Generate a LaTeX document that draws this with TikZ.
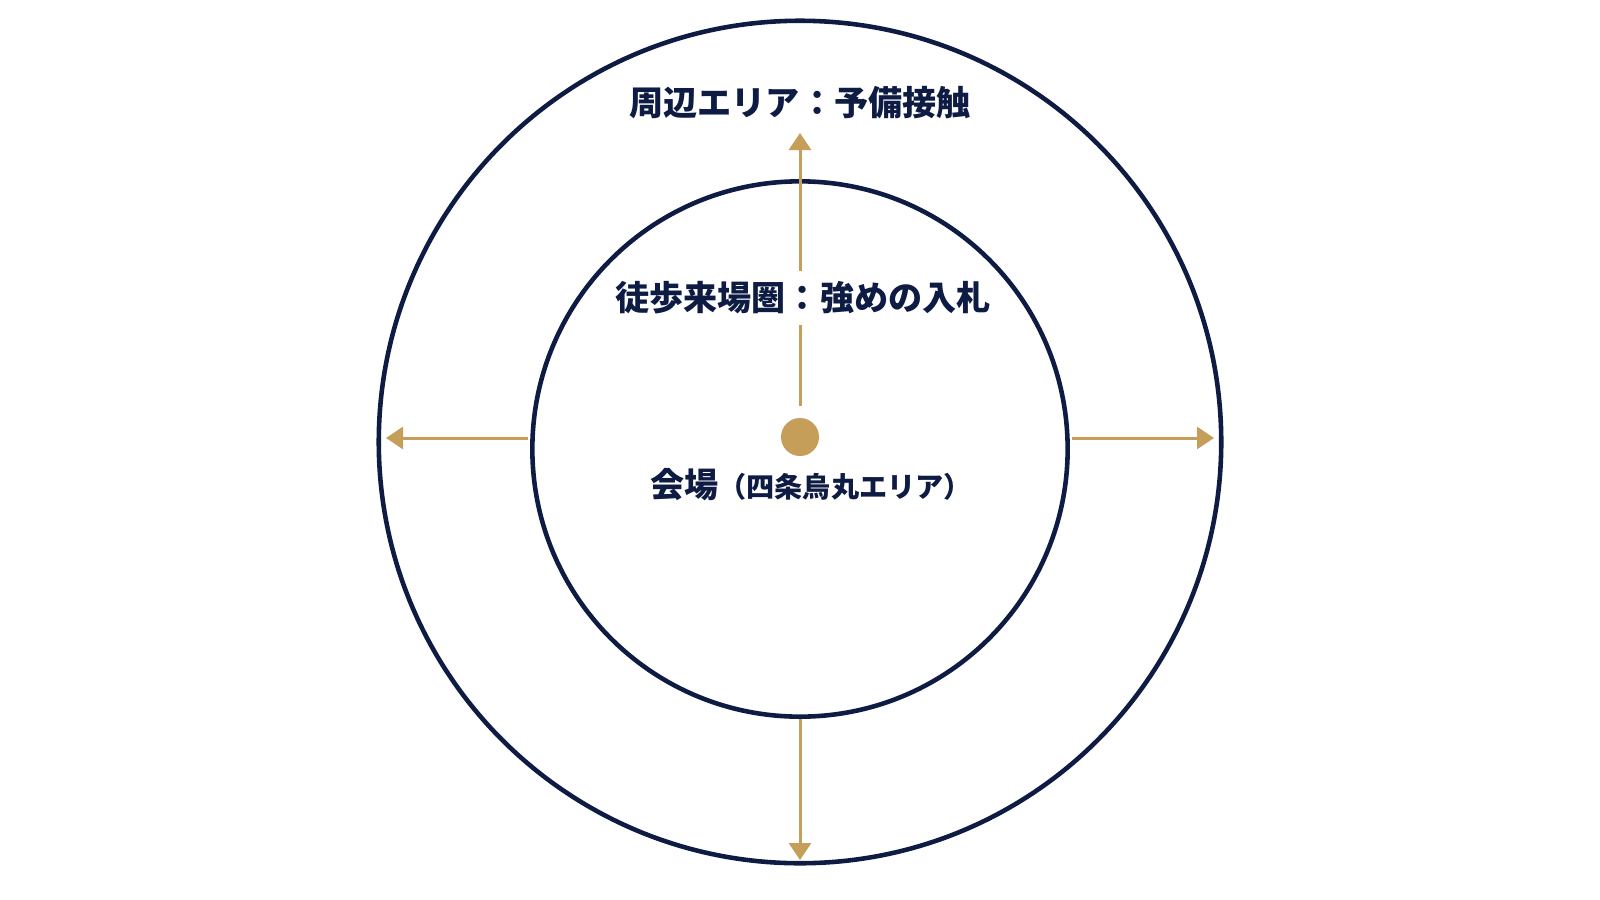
\documentclass[tikz,border=0pt]{standalone}
\usepackage{fontspec}
\setmainfont{Noto Sans CJK JP}
\usepackage{xcolor}
\usepackage{tikz}
\usetikzlibrary{arrows.meta}
\definecolor{navy}{RGB}{14,28,68}
\definecolor{gold}{RGB}{197,158,90}
\tikzset{
	ringnode/.style={circle, draw=navy, line width=1.3pt, inner sep=0pt},
	dotnode/.style={circle, fill=gold, inner sep=0pt, minimum size=0.38cm},
	labelnode/.style={text=navy, font=\bfseries\fontsize{9.7pt}{12pt}\selectfont, inner sep=0pt},
	arrowline/.style={draw=gold, line width=0.85pt, -{Triangle[length=0.17cm, width=0.22cm]}}
}

\begin{document}
\begin{tikzpicture}[x=0.01cm, y=-0.01cm]
		\useasboundingbox[fill=white] (0,0) rectangle (1600,900);
		\node[ringnode, minimum size=8.42cm] at (800,442) (outer) {};
		\node[ringnode, minimum size=5.35cm] at (800,449) (inner) {};
		\node[dotnode] at (800,437) (venue) {};
		
		%Arrow ends
		\coordinate (upstart) at (800,406);
		\coordinate (uptip) at (800,133);
		\coordinate (leftstart) at (528,438);
		\coordinate (lefttip) at (386,438);
		\coordinate (rightstart) at (1072,438);
		\coordinate (righttip) at (1214,438);
		\coordinate (downstart) at (800,719);
		\coordinate (downtip) at (800,860);
		
		%Arrows
		\draw[arrowline] (upstart) -- (uptip);
		\draw[arrowline] (leftstart) -- (lefttip);
		\draw[arrowline] (rightstart) -- (righttip);
		\draw[arrowline] (downstart) -- (downtip);
		
		%Labels
		\node[labelnode] at (800,103) (T1) {周辺エリア：予備接触};
		\node[labelnode, fill=white, inner ysep=0.11cm] at (803,298) (T2) {徒歩来場圏：強めの入札};
		\node[labelnode] at (811,485) (T3) {会場{\fontsize{8pt}{10pt}\selectfont （四条烏丸エリア）}};
		
	\end{tikzpicture}
\end{document}
